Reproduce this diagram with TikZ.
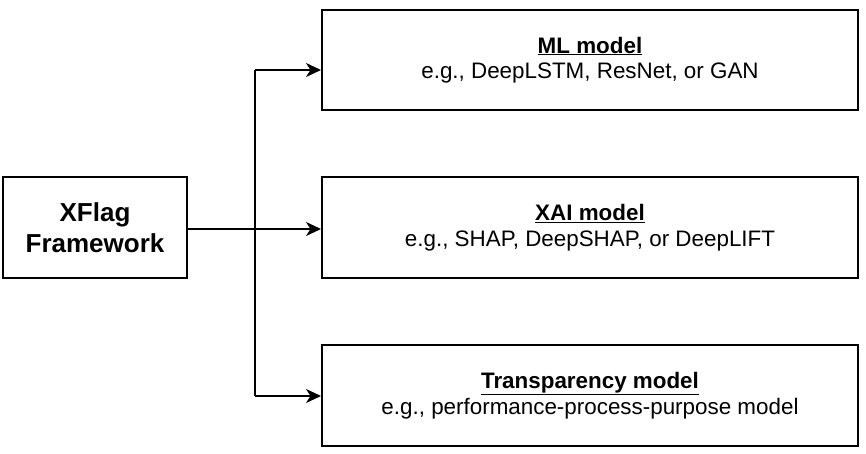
\documentclass[tikz,border=0pt]{standalone}
\usepackage{fontspec}
\setmainfont{Liberation Sans}
\usetikzlibrary{arrows.meta}

\begin{document}
\begin{tikzpicture}[x=1pt,y=-1pt]
                      \tikzstyle{box}=[draw=black,line width=2pt,align=center,inner sep=0pt,font=\fontsize{22.4}{25.5}\selectfont]
                      \tikzstyle{link}=[line width=1.5pt,-{Stealth[length=15pt,width=14pt,inset=4.5pt]}]
                      \useasboundingbox (0,0) rectangle (866,454);
                      \node [box,minimum width=184pt,minimum height=101pt,font=\bfseries\fontsize{26}{31}\selectfont] (xflag) at (95,227.5) {XFlag\\Framework};
                      \node [box,minimum width=536pt,minimum height=100pt] (ml) at (590,60) {\textbf{\underline{ML model}}\\e.g., DeepLSTM, ResNet, or GAN};
                      \node [box,minimum width=536pt,minimum height=101pt] (xai) at (590,227.5) {\textbf{\underline{XAI model}}\\e.g., SHAP, DeepSHAP, or DeepLIFT};
                      \node [box,minimum width=536pt,minimum height=101pt] (tm) at (590,395.5) {\textbf{\underline{Transparency model}}\\e.g., performance-process-purpose model};
                      \coordinate (top) at (255,70);
                      \coordinate (bot) at (255,396);
                      \draw [line width=1.5pt] (top) -- (bot);
                      \draw [link] (xflag.east |- 0,229) -- (xai.west |- 0,229);
                      \draw [link] (top) -- (ml.west |- top);
                      \draw [link] (bot) -- (tm.west |- bot);
                  \end{tikzpicture}
\end{document}
